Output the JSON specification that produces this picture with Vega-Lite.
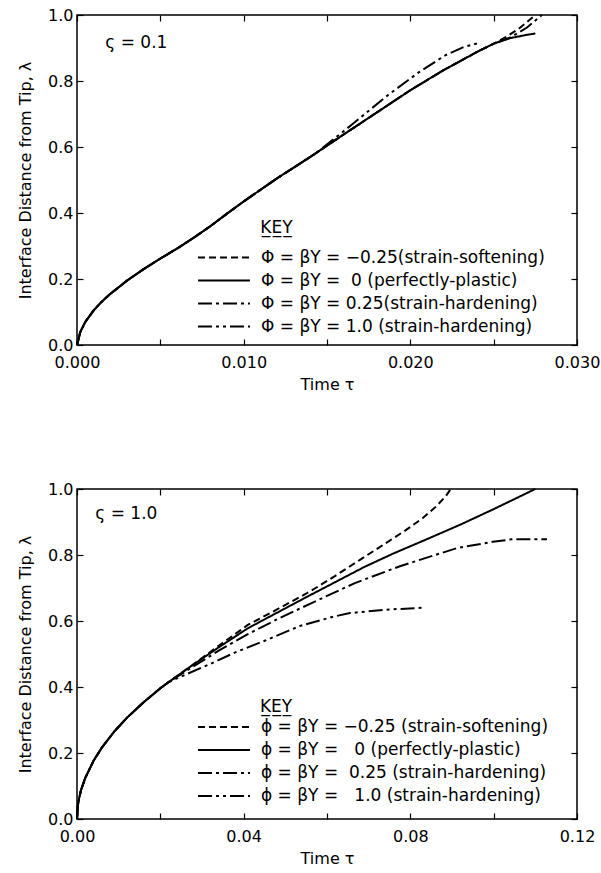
{
  "$schema": "https://vega.github.io/schema/vega-lite/v6.json",
  "padding": {"left": 16, "top": 6, "right": 5, "bottom": 5},
  "background": "white",
  "config": {
    "font": "DejaVu Sans",
    "view": {"stroke": "black", "strokeWidth": 1.5},
    "axis": {"domain": false, "grid": false, "tickColor": "black", "tickSize": -6, "tickWidth": 1.2, "labelColor": "black", "labelFontSize": 16, "labelFont": "DejaVu Sans", "titleFont": "DejaVu Sans", "titleFontSize": 16, "titleFontWeight": "normal", "titleColor": "black", "labelFlush": false, "labelOverlap": false},
    "legend": {"symbolType": "M-4,0H4", "symbolStrokeColor": "black", "symbolStrokeWidth": 2, "symbolSize": 169, "labelFontSize": 17, "labelFont": "DejaVu Sans", "labelColor": "black", "labelOffset": 28.5, "rowPadding": 5, "labelLimit": 450}
  },
  "spacing": 87,
  "vconcat": [
    {
      "width": 500,
      "height": 330,
      "layer": [
        {
          "data": {"values": [
            {"series": "Φ = βY = −0.25(strain-softening)", "t": 0, "lam": 0},
            {"series": "Φ = βY = −0.25(strain-softening)", "t": 0.0002, "lam": 0.04},
            {"series": "Φ = βY = −0.25(strain-softening)", "t": 0.0005, "lam": 0.07},
            {"series": "Φ = βY = −0.25(strain-softening)", "t": 0.001, "lam": 0.105},
            {"series": "Φ = βY = −0.25(strain-softening)", "t": 0.0015, "lam": 0.132},
            {"series": "Φ = βY = −0.25(strain-softening)", "t": 0.002, "lam": 0.155},
            {"series": "Φ = βY = −0.25(strain-softening)", "t": 0.003, "lam": 0.195},
            {"series": "Φ = βY = −0.25(strain-softening)", "t": 0.004, "lam": 0.23},
            {"series": "Φ = βY = −0.25(strain-softening)", "t": 0.005, "lam": 0.262},
            {"series": "Φ = βY = −0.25(strain-softening)", "t": 0.006, "lam": 0.292},
            {"series": "Φ = βY = −0.25(strain-softening)", "t": 0.007, "lam": 0.325},
            {"series": "Φ = βY = −0.25(strain-softening)", "t": 0.008, "lam": 0.36},
            {"series": "Φ = βY = −0.25(strain-softening)", "t": 0.009, "lam": 0.398},
            {"series": "Φ = βY = −0.25(strain-softening)", "t": 0.010, "lam": 0.435},
            {"series": "Φ = βY = −0.25(strain-softening)", "t": 0.012, "lam": 0.505},
            {"series": "Φ = βY = −0.25(strain-softening)", "t": 0.014, "lam": 0.57},
            {"series": "Φ = βY = −0.25(strain-softening)", "t": 0.016, "lam": 0.638},
            {"series": "Φ = βY = −0.25(strain-softening)", "t": 0.018, "lam": 0.705},
            {"series": "Φ = βY = −0.25(strain-softening)", "t": 0.020, "lam": 0.772},
            {"series": "Φ = βY = −0.25(strain-softening)", "t": 0.022, "lam": 0.833},
            {"series": "Φ = βY = −0.25(strain-softening)", "t": 0.024, "lam": 0.888},
            {"series": "Φ = βY = −0.25(strain-softening)", "t": 0.025, "lam": 0.913},
            {"series": "Φ = βY = −0.25(strain-softening)", "t": 0.0258, "lam": 0.935},
            {"series": "Φ = βY = −0.25(strain-softening)", "t": 0.0266, "lam": 0.962},
            {"series": "Φ = βY = −0.25(strain-softening)", "t": 0.0275, "lam": 1.0},

            {"series": "Φ = βY = \u00a00 (perfectly-plastic)", "t": 0, "lam": 0},
            {"series": "Φ = βY = \u00a00 (perfectly-plastic)", "t": 0.0002, "lam": 0.04},
            {"series": "Φ = βY = \u00a00 (perfectly-plastic)", "t": 0.0005, "lam": 0.07},
            {"series": "Φ = βY = \u00a00 (perfectly-plastic)", "t": 0.001, "lam": 0.105},
            {"series": "Φ = βY = \u00a00 (perfectly-plastic)", "t": 0.0015, "lam": 0.132},
            {"series": "Φ = βY = \u00a00 (perfectly-plastic)", "t": 0.002, "lam": 0.155},
            {"series": "Φ = βY = \u00a00 (perfectly-plastic)", "t": 0.003, "lam": 0.195},
            {"series": "Φ = βY = \u00a00 (perfectly-plastic)", "t": 0.004, "lam": 0.23},
            {"series": "Φ = βY = \u00a00 (perfectly-plastic)", "t": 0.005, "lam": 0.262},
            {"series": "Φ = βY = \u00a00 (perfectly-plastic)", "t": 0.006, "lam": 0.292},
            {"series": "Φ = βY = \u00a00 (perfectly-plastic)", "t": 0.007, "lam": 0.325},
            {"series": "Φ = βY = \u00a00 (perfectly-plastic)", "t": 0.008, "lam": 0.36},
            {"series": "Φ = βY = \u00a00 (perfectly-plastic)", "t": 0.009, "lam": 0.398},
            {"series": "Φ = βY = \u00a00 (perfectly-plastic)", "t": 0.010, "lam": 0.435},
            {"series": "Φ = βY = \u00a00 (perfectly-plastic)", "t": 0.012, "lam": 0.505},
            {"series": "Φ = βY = \u00a00 (perfectly-plastic)", "t": 0.014, "lam": 0.57},
            {"series": "Φ = βY = \u00a00 (perfectly-plastic)", "t": 0.016, "lam": 0.638},
            {"series": "Φ = βY = \u00a00 (perfectly-plastic)", "t": 0.018, "lam": 0.705},
            {"series": "Φ = βY = \u00a00 (perfectly-plastic)", "t": 0.020, "lam": 0.772},
            {"series": "Φ = βY = \u00a00 (perfectly-plastic)", "t": 0.022, "lam": 0.833},
            {"series": "Φ = βY = \u00a00 (perfectly-plastic)", "t": 0.024, "lam": 0.888},
            {"series": "Φ = βY = \u00a00 (perfectly-plastic)", "t": 0.025, "lam": 0.913},
            {"series": "Φ = βY = \u00a00 (perfectly-plastic)", "t": 0.026, "lam": 0.93},
            {"series": "Φ = βY = \u00a00 (perfectly-plastic)", "t": 0.027, "lam": 0.94},
            {"series": "Φ = βY = \u00a00 (perfectly-plastic)", "t": 0.0275, "lam": 0.944},

            {"series": "Φ = βY = 0.25(strain-hardening)", "t": 0, "lam": 0},
            {"series": "Φ = βY = 0.25(strain-hardening)", "t": 0.0002, "lam": 0.04},
            {"series": "Φ = βY = 0.25(strain-hardening)", "t": 0.0005, "lam": 0.07},
            {"series": "Φ = βY = 0.25(strain-hardening)", "t": 0.001, "lam": 0.105},
            {"series": "Φ = βY = 0.25(strain-hardening)", "t": 0.0015, "lam": 0.132},
            {"series": "Φ = βY = 0.25(strain-hardening)", "t": 0.002, "lam": 0.155},
            {"series": "Φ = βY = 0.25(strain-hardening)", "t": 0.003, "lam": 0.195},
            {"series": "Φ = βY = 0.25(strain-hardening)", "t": 0.004, "lam": 0.23},
            {"series": "Φ = βY = 0.25(strain-hardening)", "t": 0.005, "lam": 0.262},
            {"series": "Φ = βY = 0.25(strain-hardening)", "t": 0.006, "lam": 0.292},
            {"series": "Φ = βY = 0.25(strain-hardening)", "t": 0.007, "lam": 0.325},
            {"series": "Φ = βY = 0.25(strain-hardening)", "t": 0.008, "lam": 0.36},
            {"series": "Φ = βY = 0.25(strain-hardening)", "t": 0.009, "lam": 0.398},
            {"series": "Φ = βY = 0.25(strain-hardening)", "t": 0.010, "lam": 0.435},
            {"series": "Φ = βY = 0.25(strain-hardening)", "t": 0.012, "lam": 0.505},
            {"series": "Φ = βY = 0.25(strain-hardening)", "t": 0.014, "lam": 0.57},
            {"series": "Φ = βY = 0.25(strain-hardening)", "t": 0.016, "lam": 0.638},
            {"series": "Φ = βY = 0.25(strain-hardening)", "t": 0.018, "lam": 0.705},
            {"series": "Φ = βY = 0.25(strain-hardening)", "t": 0.020, "lam": 0.772},
            {"series": "Φ = βY = 0.25(strain-hardening)", "t": 0.022, "lam": 0.833},
            {"series": "Φ = βY = 0.25(strain-hardening)", "t": 0.024, "lam": 0.888},
            {"series": "Φ = βY = 0.25(strain-hardening)", "t": 0.025, "lam": 0.913},
            {"series": "Φ = βY = 0.25(strain-hardening)", "t": 0.026, "lam": 0.932},
            {"series": "Φ = βY = 0.25(strain-hardening)", "t": 0.027, "lam": 0.962},
            {"series": "Φ = βY = 0.25(strain-hardening)", "t": 0.0279, "lam": 1.0},

            {"series": "Φ = βY = 1.0 (strain-hardening)", "t": 0, "lam": 0},
            {"series": "Φ = βY = 1.0 (strain-hardening)", "t": 0.0002, "lam": 0.04},
            {"series": "Φ = βY = 1.0 (strain-hardening)", "t": 0.0005, "lam": 0.07},
            {"series": "Φ = βY = 1.0 (strain-hardening)", "t": 0.001, "lam": 0.105},
            {"series": "Φ = βY = 1.0 (strain-hardening)", "t": 0.0015, "lam": 0.132},
            {"series": "Φ = βY = 1.0 (strain-hardening)", "t": 0.002, "lam": 0.155},
            {"series": "Φ = βY = 1.0 (strain-hardening)", "t": 0.003, "lam": 0.195},
            {"series": "Φ = βY = 1.0 (strain-hardening)", "t": 0.004, "lam": 0.23},
            {"series": "Φ = βY = 1.0 (strain-hardening)", "t": 0.005, "lam": 0.262},
            {"series": "Φ = βY = 1.0 (strain-hardening)", "t": 0.006, "lam": 0.292},
            {"series": "Φ = βY = 1.0 (strain-hardening)", "t": 0.007, "lam": 0.325},
            {"series": "Φ = βY = 1.0 (strain-hardening)", "t": 0.008, "lam": 0.36},
            {"series": "Φ = βY = 1.0 (strain-hardening)", "t": 0.009, "lam": 0.398},
            {"series": "Φ = βY = 1.0 (strain-hardening)", "t": 0.010, "lam": 0.435},
            {"series": "Φ = βY = 1.0 (strain-hardening)", "t": 0.012, "lam": 0.505},
            {"series": "Φ = βY = 1.0 (strain-hardening)", "t": 0.014, "lam": 0.57},
            {"series": "Φ = βY = 1.0 (strain-hardening)", "t": 0.0145, "lam": 0.588},
            {"series": "Φ = βY = 1.0 (strain-hardening)", "t": 0.0165, "lam": 0.668},
            {"series": "Φ = βY = 1.0 (strain-hardening)", "t": 0.0186, "lam": 0.755},
            {"series": "Φ = βY = 1.0 (strain-hardening)", "t": 0.0205, "lam": 0.826},
            {"series": "Φ = βY = 1.0 (strain-hardening)", "t": 0.0221, "lam": 0.878},
            {"series": "Φ = βY = 1.0 (strain-hardening)", "t": 0.0232, "lam": 0.903},
            {"series": "Φ = βY = 1.0 (strain-hardening)", "t": 0.0241, "lam": 0.915}
          ]},
          "mark": {"type": "line", "stroke": "black", "strokeWidth": 2},
          "encoding": {
            "x": {"field": "t", "type": "quantitative", "scale": {"domain": [0, 0.03], "nice": false},
                  "axis": {"title": "Time τ", "values": [0, 0.005, 0.01, 0.015, 0.02, 0.025, 0.03],
                           "labelExpr": "round(datum.value*1000) % 10 == 0 ? format(datum.value, '.3f') : ''",
                           "labelPadding": 15, "titlePadding": 6}},
            "y": {"field": "lam", "type": "quantitative", "scale": {"domain": [0, 1], "nice": false},
                  "axis": {"title": "Interface Distance from Tip, λ", "values": [0, 0.2, 0.4, 0.6, 0.8, 1], "format": ".1f", "labelPadding": 10, "titlePadding": 14}},
            "strokeDash": {"field": "series", "type": "nominal",
                           "scale": {"domain": ["Φ = βY = −0.25(strain-softening)", "Φ = βY = \u00a00 (perfectly-plastic)", "Φ = βY = 0.25(strain-hardening)", "Φ = βY = 1.0 (strain-hardening)"],
                                     "range": [[7, 4], [1, 0], [14, 4, 3, 4], [14, 4, 3, 4, 3, 4]]},
                           "legend": {"orient": "none", "legendX": 138.5, "legendY": 234, "title": null}}
          }
        },
        {
          "data": {"values": [{"label": "ς = 0.1", "t": 0.0017, "lam": 0.914}, {"label": "K\u0332E\u0332Y\u0332", "t": 0.011, "lam": 0.355}]},
          "mark": {"type": "text", "align": "left", "baseline": "middle", "fontSize": 17, "color": "black"},
          "encoding": {
            "x": {"field": "t", "type": "quantitative", "axis": {"orient": "top", "values": [0, 0.005, 0.01, 0.015, 0.02, 0.025, 0.03], "labels": false, "title": null}},
            "y": {"field": "lam", "type": "quantitative", "axis": {"orient": "right", "values": [0, 0.2, 0.4, 0.6, 0.8, 1], "labels": false, "title": null}},
            "text": {"field": "label"}
          }
        }
      ],
      "resolve": {"axis": {"x": "independent", "y": "independent"}}
    },
    {
      "width": 500,
      "height": 330,
      "layer": [
        {
          "data": {"values": [
            {"series": "ϕ = βY = −0.25 (strain-softening)", "t": 0, "lam": 0},
            {"series": "ϕ = βY = −0.25 (strain-softening)", "t": 0.0002, "lam": 0.04},
            {"series": "ϕ = βY = −0.25 (strain-softening)", "t": 0.0005, "lam": 0.063},
            {"series": "ϕ = βY = −0.25 (strain-softening)", "t": 0.001, "lam": 0.089},
            {"series": "ϕ = βY = −0.25 (strain-softening)", "t": 0.002, "lam": 0.125},
            {"series": "ϕ = βY = −0.25 (strain-softening)", "t": 0.004, "lam": 0.177},
            {"series": "ϕ = βY = −0.25 (strain-softening)", "t": 0.006, "lam": 0.217},
            {"series": "ϕ = βY = −0.25 (strain-softening)", "t": 0.009, "lam": 0.266},
            {"series": "ϕ = βY = −0.25 (strain-softening)", "t": 0.012, "lam": 0.307},
            {"series": "ϕ = βY = −0.25 (strain-softening)", "t": 0.016, "lam": 0.354},
            {"series": "ϕ = βY = −0.25 (strain-softening)", "t": 0.020, "lam": 0.396},
            {"series": "ϕ = βY = −0.25 (strain-softening)", "t": 0.022, "lam": 0.415},
            {"series": "ϕ = βY = −0.25 (strain-softening)", "t": 0.027, "lam": 0.46},
            {"series": "ϕ = βY = −0.25 (strain-softening)", "t": 0.034, "lam": 0.525},
            {"series": "ϕ = βY = −0.25 (strain-softening)", "t": 0.041, "lam": 0.588},
            {"series": "ϕ = βY = −0.25 (strain-softening)", "t": 0.048, "lam": 0.635},
            {"series": "ϕ = βY = −0.25 (strain-softening)", "t": 0.056, "lam": 0.69},
            {"series": "ϕ = βY = −0.25 (strain-softening)", "t": 0.062, "lam": 0.737},
            {"series": "ϕ = βY = −0.25 (strain-softening)", "t": 0.068, "lam": 0.786},
            {"series": "ϕ = βY = −0.25 (strain-softening)", "t": 0.074, "lam": 0.835},
            {"series": "ϕ = βY = −0.25 (strain-softening)", "t": 0.079, "lam": 0.876},
            {"series": "ϕ = βY = −0.25 (strain-softening)", "t": 0.083, "lam": 0.912},
            {"series": "ϕ = βY = −0.25 (strain-softening)", "t": 0.086, "lam": 0.945},
            {"series": "ϕ = βY = −0.25 (strain-softening)", "t": 0.0885, "lam": 0.978},
            {"series": "ϕ = βY = −0.25 (strain-softening)", "t": 0.0897, "lam": 1.0},

            {"series": "ϕ = βY = \u00a0\u00a00 (perfectly-plastic)", "t": 0, "lam": 0},
            {"series": "ϕ = βY = \u00a0\u00a00 (perfectly-plastic)", "t": 0.0002, "lam": 0.04},
            {"series": "ϕ = βY = \u00a0\u00a00 (perfectly-plastic)", "t": 0.0005, "lam": 0.063},
            {"series": "ϕ = βY = \u00a0\u00a00 (perfectly-plastic)", "t": 0.001, "lam": 0.089},
            {"series": "ϕ = βY = \u00a0\u00a00 (perfectly-plastic)", "t": 0.002, "lam": 0.125},
            {"series": "ϕ = βY = \u00a0\u00a00 (perfectly-plastic)", "t": 0.004, "lam": 0.177},
            {"series": "ϕ = βY = \u00a0\u00a00 (perfectly-plastic)", "t": 0.006, "lam": 0.217},
            {"series": "ϕ = βY = \u00a0\u00a00 (perfectly-plastic)", "t": 0.009, "lam": 0.266},
            {"series": "ϕ = βY = \u00a0\u00a00 (perfectly-plastic)", "t": 0.012, "lam": 0.307},
            {"series": "ϕ = βY = \u00a0\u00a00 (perfectly-plastic)", "t": 0.016, "lam": 0.354},
            {"series": "ϕ = βY = \u00a0\u00a00 (perfectly-plastic)", "t": 0.020, "lam": 0.396},
            {"series": "ϕ = βY = \u00a0\u00a00 (perfectly-plastic)", "t": 0.022, "lam": 0.415},
            {"series": "ϕ = βY = \u00a0\u00a00 (perfectly-plastic)", "t": 0.027, "lam": 0.46},
            {"series": "ϕ = βY = \u00a0\u00a00 (perfectly-plastic)", "t": 0.034, "lam": 0.52},
            {"series": "ϕ = βY = \u00a0\u00a00 (perfectly-plastic)", "t": 0.041, "lam": 0.578},
            {"series": "ϕ = βY = \u00a0\u00a00 (perfectly-plastic)", "t": 0.048, "lam": 0.625},
            {"series": "ϕ = βY = \u00a0\u00a00 (perfectly-plastic)", "t": 0.055, "lam": 0.672},
            {"series": "ϕ = βY = \u00a0\u00a00 (perfectly-plastic)", "t": 0.062, "lam": 0.718},
            {"series": "ϕ = βY = \u00a0\u00a00 (perfectly-plastic)", "t": 0.069, "lam": 0.764},
            {"series": "ϕ = βY = \u00a0\u00a00 (perfectly-plastic)", "t": 0.076, "lam": 0.805},
            {"series": "ϕ = βY = \u00a0\u00a00 (perfectly-plastic)", "t": 0.084, "lam": 0.848},
            {"series": "ϕ = βY = \u00a0\u00a00 (perfectly-plastic)", "t": 0.092, "lam": 0.892},
            {"series": "ϕ = βY = \u00a0\u00a00 (perfectly-plastic)", "t": 0.100, "lam": 0.939},
            {"series": "ϕ = βY = \u00a0\u00a00 (perfectly-plastic)", "t": 0.110, "lam": 1.0},

            {"series": "ϕ = βY = \u00a00.25 (strain-hardening)", "t": 0, "lam": 0},
            {"series": "ϕ = βY = \u00a00.25 (strain-hardening)", "t": 0.0002, "lam": 0.04},
            {"series": "ϕ = βY = \u00a00.25 (strain-hardening)", "t": 0.0005, "lam": 0.063},
            {"series": "ϕ = βY = \u00a00.25 (strain-hardening)", "t": 0.001, "lam": 0.089},
            {"series": "ϕ = βY = \u00a00.25 (strain-hardening)", "t": 0.002, "lam": 0.125},
            {"series": "ϕ = βY = \u00a00.25 (strain-hardening)", "t": 0.004, "lam": 0.177},
            {"series": "ϕ = βY = \u00a00.25 (strain-hardening)", "t": 0.006, "lam": 0.217},
            {"series": "ϕ = βY = \u00a00.25 (strain-hardening)", "t": 0.009, "lam": 0.266},
            {"series": "ϕ = βY = \u00a00.25 (strain-hardening)", "t": 0.012, "lam": 0.307},
            {"series": "ϕ = βY = \u00a00.25 (strain-hardening)", "t": 0.016, "lam": 0.354},
            {"series": "ϕ = βY = \u00a00.25 (strain-hardening)", "t": 0.020, "lam": 0.396},
            {"series": "ϕ = βY = \u00a00.25 (strain-hardening)", "t": 0.022, "lam": 0.415},
            {"series": "ϕ = βY = \u00a00.25 (strain-hardening)", "t": 0.027, "lam": 0.455},
            {"series": "ϕ = βY = \u00a00.25 (strain-hardening)", "t": 0.034, "lam": 0.51},
            {"series": "ϕ = βY = \u00a00.25 (strain-hardening)", "t": 0.041, "lam": 0.56},
            {"series": "ϕ = βY = \u00a00.25 (strain-hardening)", "t": 0.048, "lam": 0.605},
            {"series": "ϕ = βY = \u00a00.25 (strain-hardening)", "t": 0.0559, "lam": 0.652},
            {"series": "ϕ = βY = \u00a00.25 (strain-hardening)", "t": 0.0667, "lam": 0.715},
            {"series": "ϕ = βY = \u00a00.25 (strain-hardening)", "t": 0.0775, "lam": 0.766},
            {"series": "ϕ = βY = \u00a00.25 (strain-hardening)", "t": 0.0912, "lam": 0.821},
            {"series": "ϕ = βY = \u00a00.25 (strain-hardening)", "t": 0.0998, "lam": 0.84},
            {"series": "ϕ = βY = \u00a00.25 (strain-hardening)", "t": 0.1046, "lam": 0.848},
            {"series": "ϕ = βY = \u00a00.25 (strain-hardening)", "t": 0.1128, "lam": 0.848},

            {"series": "ϕ = βY = \u00a0\u00a01.0 (strain-hardening)", "t": 0, "lam": 0},
            {"series": "ϕ = βY = \u00a0\u00a01.0 (strain-hardening)", "t": 0.0002, "lam": 0.04},
            {"series": "ϕ = βY = \u00a0\u00a01.0 (strain-hardening)", "t": 0.0005, "lam": 0.063},
            {"series": "ϕ = βY = \u00a0\u00a01.0 (strain-hardening)", "t": 0.001, "lam": 0.089},
            {"series": "ϕ = βY = \u00a0\u00a01.0 (strain-hardening)", "t": 0.002, "lam": 0.125},
            {"series": "ϕ = βY = \u00a0\u00a01.0 (strain-hardening)", "t": 0.004, "lam": 0.177},
            {"series": "ϕ = βY = \u00a0\u00a01.0 (strain-hardening)", "t": 0.006, "lam": 0.217},
            {"series": "ϕ = βY = \u00a0\u00a01.0 (strain-hardening)", "t": 0.009, "lam": 0.266},
            {"series": "ϕ = βY = \u00a0\u00a01.0 (strain-hardening)", "t": 0.012, "lam": 0.307},
            {"series": "ϕ = βY = \u00a0\u00a01.0 (strain-hardening)", "t": 0.016, "lam": 0.354},
            {"series": "ϕ = βY = \u00a0\u00a01.0 (strain-hardening)", "t": 0.020, "lam": 0.396},
            {"series": "ϕ = βY = \u00a0\u00a01.0 (strain-hardening)", "t": 0.022, "lam": 0.415},
            {"series": "ϕ = βY = \u00a0\u00a01.0 (strain-hardening)", "t": 0.0265, "lam": 0.44},
            {"series": "ϕ = βY = \u00a0\u00a01.0 (strain-hardening)", "t": 0.032, "lam": 0.47},
            {"series": "ϕ = βY = \u00a0\u00a01.0 (strain-hardening)", "t": 0.038, "lam": 0.505},
            {"series": "ϕ = βY = \u00a0\u00a01.0 (strain-hardening)", "t": 0.046, "lam": 0.545},
            {"series": "ϕ = βY = \u00a0\u00a01.0 (strain-hardening)", "t": 0.0535, "lam": 0.585},
            {"series": "ϕ = βY = \u00a0\u00a01.0 (strain-hardening)", "t": 0.0615, "lam": 0.613},
            {"series": "ϕ = βY = \u00a0\u00a01.0 (strain-hardening)", "t": 0.0655, "lam": 0.624},
            {"series": "ϕ = βY = \u00a0\u00a01.0 (strain-hardening)", "t": 0.075, "lam": 0.635},
            {"series": "ϕ = βY = \u00a0\u00a01.0 (strain-hardening)", "t": 0.083, "lam": 0.64}
          ]},
          "mark": {"type": "line", "stroke": "black", "strokeWidth": 2},
          "encoding": {
            "x": {"field": "t", "type": "quantitative", "scale": {"domain": [0, 0.12], "nice": false},
                  "axis": {"title": "Time τ", "values": [0, 0.02, 0.04, 0.06, 0.08, 0.1, 0.12],
                           "labelExpr": "round(datum.value*100) % 4 == 0 ? format(datum.value, '.2f') : ''",
                           "labelPadding": 15, "titlePadding": 6}},
            "y": {"field": "lam", "type": "quantitative", "scale": {"domain": [0, 1], "nice": false},
                  "axis": {"title": "Interface Distance from Tip, λ", "values": [0, 0.2, 0.4, 0.6, 0.8, 1], "format": ".1f", "labelPadding": 10, "titlePadding": 14}},
            "strokeDash": {"field": "series", "type": "nominal",
                           "scale": {"domain": ["ϕ = βY = −0.25 (strain-softening)", "ϕ = βY = \u00a0\u00a00 (perfectly-plastic)", "ϕ = βY = \u00a00.25 (strain-hardening)", "ϕ = βY = \u00a0\u00a01.0 (strain-hardening)"],
                                     "range": [[7, 4], [1, 0], [14, 4, 3, 4], [14, 4, 3, 4, 3, 4]]},
                           "legend": {"orient": "none", "legendX": 138.5, "legendY": 229.5, "title": null}}
          }
        },
        {
          "data": {"values": [{"label": "ς = 1.0", "t": 0.0044, "lam": 0.924}, {"label": "K\u0332E\u0332Y\u0332", "t": 0.0439, "lam": 0.34}]},
          "mark": {"type": "text", "align": "left", "baseline": "middle", "fontSize": 17, "color": "black"},
          "encoding": {
            "x": {"field": "t", "type": "quantitative", "axis": {"orient": "top", "values": [0, 0.02, 0.04, 0.06, 0.08, 0.1, 0.12], "labels": false, "title": null}},
            "y": {"field": "lam", "type": "quantitative", "axis": {"orient": "right", "values": [0, 0.2, 0.4, 0.6, 0.8, 1], "labels": false, "title": null}},
            "text": {"field": "label"}
          }
        }
      ],
      "resolve": {"axis": {"x": "independent", "y": "independent"}}
    }
  ],
  "resolve": {"scale": {"strokeDash": "independent"}, "legend": {"strokeDash": "independent"}}
}
